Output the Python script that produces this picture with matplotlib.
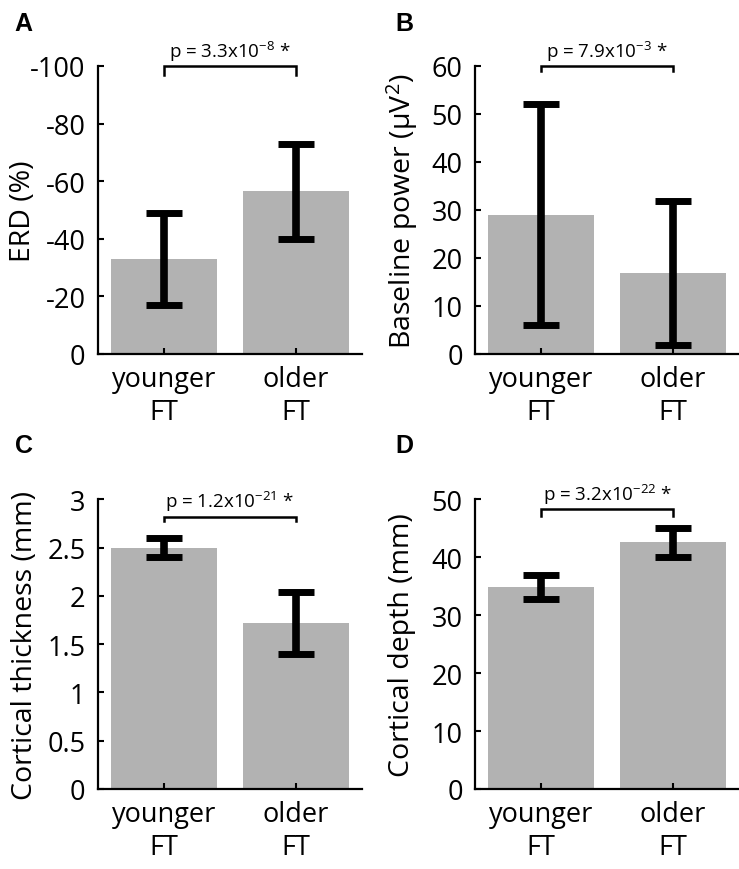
import matplotlib.pyplot as plt
import numpy as np

plt.rcParams['font.family'] = ['Open Sans', 'DejaVu Sans']
plt.rcParams['axes.unicode_minus'] = False
plt.rcParams['mathtext.fontset'] = 'custom'
plt.rcParams['mathtext.rm'] = 'Open Sans'
plt.rcParams['mathtext.it'] = 'Open Sans'
plt.rcParams['mathtext.default'] = 'rm'

groups = ['younger\nFT', 'older\nFT']

erd_mean = [-33, -56.5]
erd_err = [16, 16.5]

power_mean = [29, 16.8]
power_err = [23, 15]

thick_mean = [2.5, 1.72]
thick_err = [0.1, 0.32]

depth_mean = [34.8, 42.6]
depth_err = [2.1, 2.5]

panels = [
    ('A', erd_mean, erd_err, 'ERD (%)', (0, -100), [0, -20, -40, -60, -80, -100],
     r'p = 3.3x10$^{-8}$ *', -100, -97),
    ('B', power_mean, power_err, r'Baseline power (μV$^2$)', (0, 60), [0, 10, 20, 30, 40, 50, 60],
     r'p = 7.9x10$^{-3}$ *', 60, 59),
    ('C', thick_mean, thick_err, 'Cortical thickness (mm)', (0, 3), [0, 0.5, 1, 1.5, 2, 2.5, 3],
     r'p = 1.2x10$^{-21}$ *', 2.82, 2.77),
    ('D', depth_mean, depth_err, 'Cortical depth (mm)', (0, 50), [0, 10, 20, 30, 40, 50],
     r'p = 3.2x10$^{-22}$ *', 48.3, 47.1),
]

fig = plt.figure(figsize=(7.39, 8.70), dpi=100)
positions = [
    [0.1326, 0.592, 0.357, 0.331],
    [0.6430, 0.592, 0.357, 0.331],
    [0.1326, 0.092, 0.357, 0.333],
    [0.6430, 0.092, 0.357, 0.333],
]
letter_xy = [(0.020, 0.972), (0.535, 0.972), (0.020, 0.487), (0.535, 0.487)]
label_x = [-0.284, -0.277, -0.277, -0.277]

x = np.arange(1, 3)
for (letter, mean, err, ylabel, ylim, ticks, ptext, ybr, yleg), pos, lxy, lx in zip(
        panels, positions, letter_xy, label_x):
    ax = fig.add_axes(pos)
    ax.bar(x, mean, width=0.8, color='#b2b2b2', zorder=1)
    ax.errorbar(x, mean, yerr=err, fmt='none', ecolor='black', elinewidth=5.5,
                capsize=13, capthick=5, zorder=2)
    ax.set_xlim(0.5, 2.5)
    ax.set_ylim(*ylim)
    ax.set_yticks(ticks)
    ax.set_yticklabels(['%g' % t for t in ticks])
    ax.set_xticks(x)
    ax.set_xticklabels(groups, linespacing=1.25)
    ax.set_ylabel(ylabel, fontsize=20.5, va='center')
    ax.yaxis.set_label_coords(lx, 0.5)
    ax.tick_params(direction='in', length=4, width=1.5, labelsize=19.5, pad=9)
    ax.tick_params(axis='x', pad=8)
    for s in ['top', 'right']:
        ax.spines[s].set_visible(False)
    for s in ['left', 'bottom']:
        ax.spines[s].set_linewidth(1.6)
    # significance bracket
    ax.plot([1, 1, 2, 2], [yleg, ybr, ybr, yleg], color='black', lw=1.8,
            clip_on=False, solid_joinstyle='miter')
    span = ylim[1] - ylim[0]
    ax.text(1.5, ybr + span * 0.012, ptext, ha='center', va='bottom', fontsize=13.5)
    fig.text(lxy[0], lxy[1], letter, fontsize=18, fontweight='bold',
             family='Liberation Sans', ha='left', va='center')

fig.savefig('out.png', dpi=100)
